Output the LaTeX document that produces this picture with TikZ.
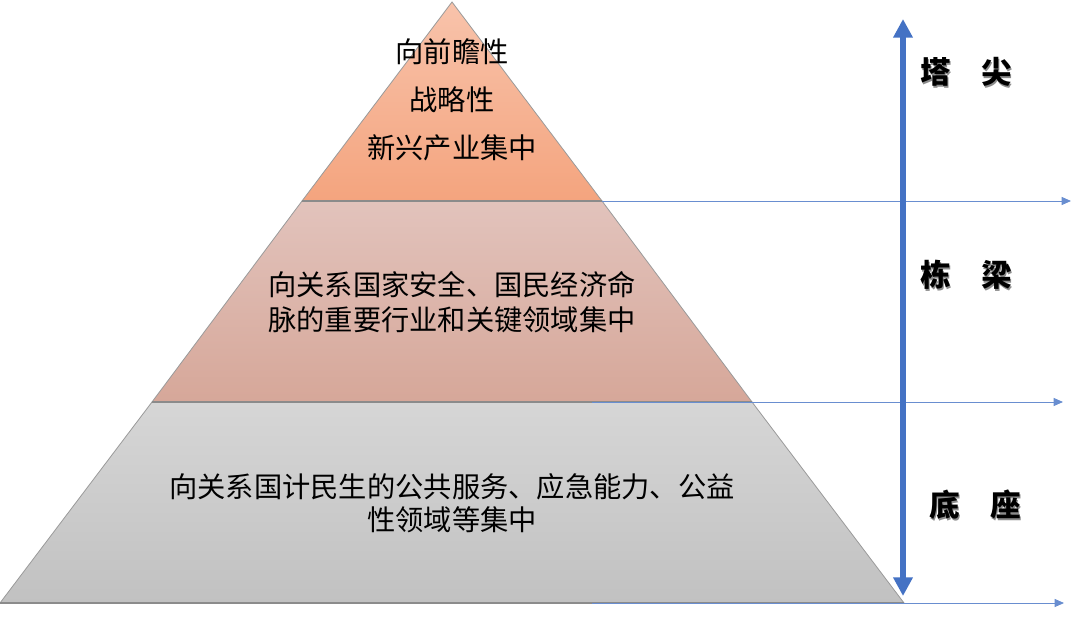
\documentclass[tikz,border=0pt]{standalone}
\usepackage{fontspec}
\newfontfamily\cjk{Noto Sans CJK SC}
\usetikzlibrary{arrows.meta}
\definecolor{topA}{HTML}{F8C3AB}
\definecolor{topB}{HTML}{F4A47E}
\definecolor{midA}{HTML}{E2C3BC}
\definecolor{midB}{HTML}{D6A799}
\definecolor{botA}{HTML}{D6D6D6}
\definecolor{botB}{HTML}{C1C1C1}
\definecolor{edge}{HTML}{9A9A9A}
\definecolor{arrblue}{HTML}{4472C4}
\tikzset{
  layer/.style={draw=edge, line width=0.6pt},
  baseline/.style={draw=edge!90!black, line width=1.3pt},
  bodytext/.style={font=\cjk\fontsize{21.2}{26}\selectfont, text=black, align=center, inner sep=0pt},
  tagtext/.style={font=\cjk\bfseries\fontsize{23}{26}\selectfont, text=black, inner sep=0pt},
  tagshadow/.style={font=\cjk\bfseries\fontsize{23}{26}\selectfont, text=black!45, inner sep=0pt},
  levelarrow/.style={draw=arrblue!80, line width=0.7pt, -{Triangle[width=6pt,length=7pt]}},
  spanarrow/.style={draw=arrblue, line width=5pt, {Triangle[width=14pt,length=14pt]}-{Triangle[width=14pt,length=14pt]}}
}
\begin{document}
\begin{tikzpicture}[x=0.75pt,y=-0.75pt]
\useasboundingbox (0,0) rectangle (1080,617);
\coordinate (apex) at (452,2);
\coordinate (tl) at (302,201);
\coordinate (tr) at (602,201);
\coordinate (ml) at (152,402);
\coordinate (mr) at (752,402);
\coordinate (bl) at (0,603);
\coordinate (br) at (904,603);
% layers
\shade[layer, top color=topA, bottom color=topB] (apex) -- (tr) -- (tl) -- cycle;
\shade[layer, top color=midA, bottom color=midB] (tl) -- (tr) -- (mr) -- (ml) -- cycle;
\shade[layer, top color=botA, bottom color=botB] (ml) -- (mr) -- (br) -- (bl) -- cycle;
\draw[baseline] (tl) -- (tr);
\draw[baseline] (ml) -- (mr);
\draw[baseline] (bl) -- (br);
% texts
\node[bodytext] (t1) at (452,52) {向前瞻性};
\node[bodytext] (t2) at (452,100) {战略性};
\node[bodytext] (t3) at (452,148) {新兴产业集中};
\node[bodytext] (m1) at (452,285) {向关系国家安全、国民经济命};
\node[bodytext] (m2) at (452,320) {脉的重要行业和关键领域集中};
\node[bodytext] (b1) at (452,487) {向关系国计民生的公共服务、应急能力、公益};
\node[bodytext] (b2) at (452,520) {性领域等集中};
% level arrows
\coordinate (e1s) at (602,201);
\coordinate (e1e) at (1071,201);
\coordinate (e2s) at (592,402);
\coordinate (e2e) at (1063,402);
\coordinate (e3s) at (592,603);
\coordinate (e3e) at (1064,603);
\draw[levelarrow] (e1s) -- (e1e);
\draw[levelarrow] (e2s) -- (e2e);
\draw[levelarrow] (e3s) -- (e3e);
% span arrow
\coordinate (vt) at (903,19);
\coordinate (vb) at (903,596);
\draw[spanarrow] (vb) -- (vt);
% tags
\node[tagshadow] (s1) at (967.5,73.5) {塔\hspace{1em}尖};
\node[tagtext] (g1) at (966,72) {塔\hspace{1em}尖};
\node[tagshadow] (s2) at (967.5,276.5) {栋\hspace{1em}梁};
\node[tagtext] (g2) at (966,275) {栋\hspace{1em}梁};
\node[tagshadow] (s3) at (976.5,506.5) {底\hspace{1em}座};
\node[tagtext] (g3) at (975,505) {底\hspace{1em}座};
\end{tikzpicture}
\end{document}
